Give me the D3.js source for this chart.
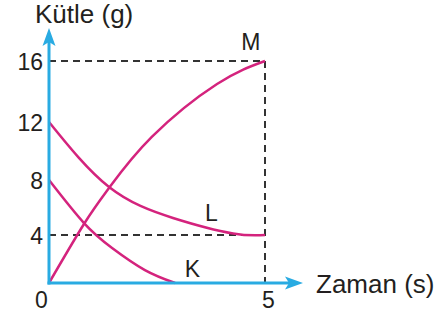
<!DOCTYPE html>
<html>
<head>
<meta charset="utf-8">
<script src="https://cdn.jsdelivr.net/npm/d3@7"></script>
<style>
  body { margin: 0; background: #fff; }
  text { font-family: "Liberation Sans", Arial, sans-serif; fill: #231f20; }
</style>
</head>
<body>
<div id="chart"></div>
<script>
// values (time in s, mass in g)
var xTicks = [0, 5];
var yTicks = [0, 4, 8, 12, 16];
var curveNames = ["M", "L", "K"];

var mTime = [0, 0.81, 1.39, 2.38, 3.89, 5];
var mMass = [0, 4.80, 7.42, 10.97, 14.49, 16];

var lTime = [0, 1.39, 2.87, 4.26, 5];
var lMass = [12, 7.49, 5.24, 4.11, 4];

var kTime = [0, 0.81, 1.46, 2.22, 2.92];
var kMass = [8, 4.87, 2.92, 1.08, 0];

var width = 448, height = 320;
var blue = "#29abe2", pink = "#d4237d", dash = "#333";

var svg = d3.select("#chart").append("svg")
    .attr("width", width)
    .attr("height", height);

var x = d3.scaleLinear().domain([0, 5]).range([49, 265]);
// the drawing is not evenly spaced, so the scale follows the printed ticks
var y = d3.scaleLinear().domain(yTicks).range([283, 235, 180, 122, 61]);

// dashed guide lines
var guides = [
    [[0, 16], [5, 16]],
    [[0, 4], [5, 4]],
    [[5, 16], [5, 0]]
];
svg.selectAll("line.guide")
    .data(guides)
    .enter().append("line")
    .attr("class", "guide")
    .attr("x1", function(d) { return x(d[0][0]); })
    .attr("y1", function(d) { return y(d[0][1]); })
    .attr("x2", function(d) { return x(d[1][0]); })
    .attr("y2", function(d) { return y(d[1][1]); })
    .attr("stroke", dash)
    .attr("stroke-width", 2)
    .attr("stroke-dasharray", "7,5");

// curves
var series = [
    {name: "M", t: mTime, m: mMass},
    {name: "L", t: lTime, m: lMass},
    {name: "K", t: kTime, m: kMass}
];
var line = d3.line()
    .x(function(d) { return x(d[0]); })
    .y(function(d) { return y(d[1]); })
    .curve(d3.curveNatural);

svg.selectAll("path.curve")
    .data(series)
    .enter().append("path")
    .attr("class", "curve")
    .attr("d", function(s) { return line(d3.zip(s.t, s.m)); })
    .attr("fill", "none")
    .attr("stroke", pink)
    .attr("stroke-width", 2.5);

// curve labels
var labelPos = {M: [4.67, 16, 0, -11], L: [3.76, 4, 0, -14], K: [3.32, 0, 0, -6]};
svg.selectAll("text.name")
    .data(curveNames)
    .enter().append("text")
    .attr("class", "name")
    .attr("x", function(d) { return x(labelPos[d][0]) + labelPos[d][2]; })
    .attr("y", function(d) { return y(labelPos[d][1]) + labelPos[d][3]; })
    .attr("text-anchor", "middle")
    .style("font-size", "23px")
    .text(function(d) { return d; });

// axes (labels from d3 axes, lines drawn with arrows)
var yAxis = svg.append("g")
    .attr("transform", "translate(" + (x(0) - 6) + ",0)")
    .call(d3.axisLeft(y).tickValues(yTicks.slice(1)).tickSize(0).tickPadding(0));
yAxis.select(".domain").remove();
yAxis.selectAll("text")
    .attr("dy", "0.38em")
    .style("font-size", "23px")
    .style("font-family", "'Liberation Sans', Arial, sans-serif")
    .attr("fill", "#231f20");

var xAxis = svg.append("g")
    .attr("transform", "translate(0," + (y(0) + 8) + ")")
    .call(d3.axisBottom(x).tickValues(xTicks).tickFormat(d3.format("d")).tickSize(0).tickPadding(0));
xAxis.select(".domain").remove();
xAxis.selectAll("text")
    .attr("dy", "0.72em")
    .attr("dx", function(d) { return d === 0 ? -8 : 3; })
    .style("font-size", "23px")
    .style("font-family", "'Liberation Sans', Arial, sans-serif")
    .attr("fill", "#231f20");

svg.append("line")
    .attr("x1", x(0)).attr("y1", y(0) + 1.5)
    .attr("x2", x(0)).attr("y2", 40)
    .attr("stroke", blue).attr("stroke-width", 3);
svg.append("line")
    .attr("x1", x(0) - 1.5).attr("y1", y(0))
    .attr("x2", 290).attr("y2", y(0))
    .attr("stroke", blue).attr("stroke-width", 3);

svg.append("path")
    .attr("d", "M" + x(0) + ",28 L" + (x(0) + 6.5) + ",46 L" + x(0) + ",42 L" + (x(0) - 6.5) + ",46 Z")
    .attr("fill", blue);
svg.append("path")
    .attr("d", "M303," + y(0) + " L285," + (y(0) - 6.5) + " L289," + y(0) + " L285," + (y(0) + 6.5) + " Z")
    .attr("fill", blue);

svg.append("text")
    .attr("x", 35).attr("y", 23)
    .style("font-size", "26px")
    .text("Kütle (g)");
svg.append("text")
    .attr("x", 316).attr("y", 293)
    .style("font-size", "26px")
    .text("Zaman (s)");
</script>
</body>
</html>
